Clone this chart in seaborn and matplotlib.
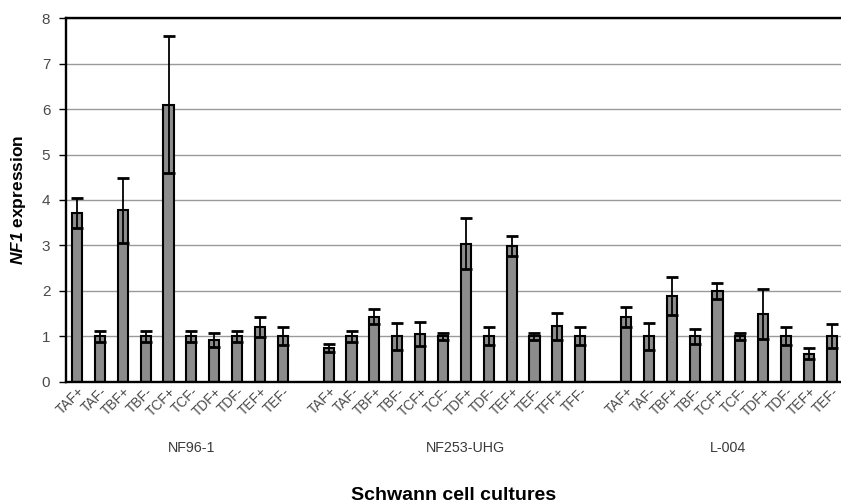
import matplotlib
matplotlib.use("Agg")
import matplotlib.pyplot as plt
import matplotlib.transforms as mtransforms
import numpy as np
import pandas as pd
import seaborn as sns

# Conditions measured in each Schwann cell culture
cultures = ["NF96-1", "NF253-UHG", "L-004"]

conds_nf96 = ["TAF+", "TAF-", "TBF+", "TBF-", "TCF+", "TCF-", "TDF+", "TDF-", "TEF+", "TEF-"]
conds_nf253 = ["TAF+", "TAF-", "TBF+", "TBF-", "TCF+", "TCF-", "TDF+", "TDF-",
               "TEF+", "TEF-", "TFF+", "TFF-"]
conds_l004 = ["TAF+", "TAF-", "TBF+", "TBF-", "TCF+", "TCF-", "TDF+", "TDF-", "TEF+", "TEF-"]

# Mean NF1 expression per condition
expr_nf96 = [3.72, 1.00, 3.77, 1.00, 6.10, 1.00, 0.92, 1.00, 1.20, 1.00]
expr_nf253 = [0.74, 1.00, 1.43, 1.00, 1.05, 1.00, 3.04, 1.00, 2.99, 1.00, 1.22, 1.00]
expr_l004 = [1.43, 1.00, 1.88, 1.00, 2.00, 1.00, 1.48, 1.00, 0.62, 1.00]

# Standard deviations
err_nf96 = [0.33, 0.12, 0.72, 0.12, 1.50, 0.12, 0.16, 0.12, 0.22, 0.20]
err_nf253 = [0.08, 0.12, 0.17, 0.30, 0.27, 0.08, 0.57, 0.20, 0.22, 0.08, 0.30, 0.20]
err_l004 = [0.22, 0.30, 0.42, 0.16, 0.18, 0.08, 0.55, 0.20, 0.12, 0.26]

groups = [
    (cultures[0], conds_nf96, expr_nf96, err_nf96),
    (cultures[1], conds_nf253, expr_nf253, err_nf253),
    (cultures[2], conds_l004, expr_l004, err_l004),
]

# Lay out the categories with one empty slot between cultures
rows = []
spans = []
start = 0
for name, conds, vals, errs in groups:
    for i, (c, v, e) in enumerate(zip(conds, vals, errs)):
        rows.append({"pos": start + i, "cond": c, "value": v, "err": e, "culture": name})
    spans.append((name, start, start + len(conds)))
    start += len(conds) + 1
df = pd.DataFrame(rows)

sns.set_style("white")
plt.rcParams["font.family"] = ["Liberation Sans", "DejaVu Sans"]
plt.rcParams["mathtext.fontset"] = "custom"
plt.rcParams["mathtext.bfit"] = "Liberation Sans:bold:italic"
plt.rcParams["mathtext.bf"] = "Liberation Sans:bold"
plt.rcParams["mathtext.rm"] = "Liberation Sans"

fig = plt.figure(figsize=(8.41, 5.04), dpi=100)
ax = fig.add_axes([0.078, 0.2427, 0.922, 0.7210])

xmax = df["pos"].max() + 0.4
ax.set_xlim(-0.5, xmax)
ax.set_ylim(0, 8)

# horizontal gridlines behind the bars
ax.set_yticks(range(0, 9))
ax.yaxis.grid(True, color="#9a9a9a", linewidth=1.0, zorder=0)
ax.set_axisbelow(True)

sns.barplot(data=df, x="pos", y="value", native_scale=True, color="#8c8c8c",
            saturation=1, edgecolor="black", linewidth=1.5, width=0.44,
            errorbar=None, ax=ax, zorder=2)

ax.errorbar(df["pos"], df["value"], yerr=df["err"], fmt="none", ecolor="black",
            elinewidth=1.3, capsize=4.2, capthick=2.0, zorder=3)

ax.set_xlim(-0.5, xmax)
ax.set_ylim(0, 8)

ax.set_xticks(df["pos"])
ax.set_xticklabels(df["cond"], rotation=45, ha="right", va="top",
                   rotation_mode="anchor", fontsize=9.8, color="#4a4a4a")
ax.tick_params(axis="x", length=0, pad=2)
ax.tick_params(axis="y", length=5, width=1.0, color="black", pad=6,
               labelsize=11, labelcolor="#4a4a4a", left=True, direction="out")

for side in ["left", "bottom", "top"]:
    ax.spines[side].set_visible(True)
    ax.spines[side].set_color("black")
    ax.spines[side].set_linewidth(1.7)
ax.spines["right"].set_visible(False)

ax.set_xlabel("")
ax.set_ylabel(r"$\mathbfit{NF1}$ expression", fontsize=12.5, fontweight="bold",
              color="black")
ax.yaxis.set_label_coords(-0.048, 0.5)

# culture names under each block of conditions
trans = mtransforms.blended_transform_factory(ax.transData, ax.transAxes)
for k, (name, a, b) in enumerate(spans):
    left = a - 0.5
    right = b + 0.5 if k < len(spans) - 1 else xmax
    ax.text((left + right) / 2, -0.182, name, transform=trans, ha="center",
            va="center", fontsize=10.3, color="#3a3a3a")

ax.text(0.5, -0.312, "Schwann cell cultures", transform=ax.transAxes,
        ha="center", va="center", fontsize=14, fontweight="bold", color="black")

fig.savefig("out.png", dpi=100)
